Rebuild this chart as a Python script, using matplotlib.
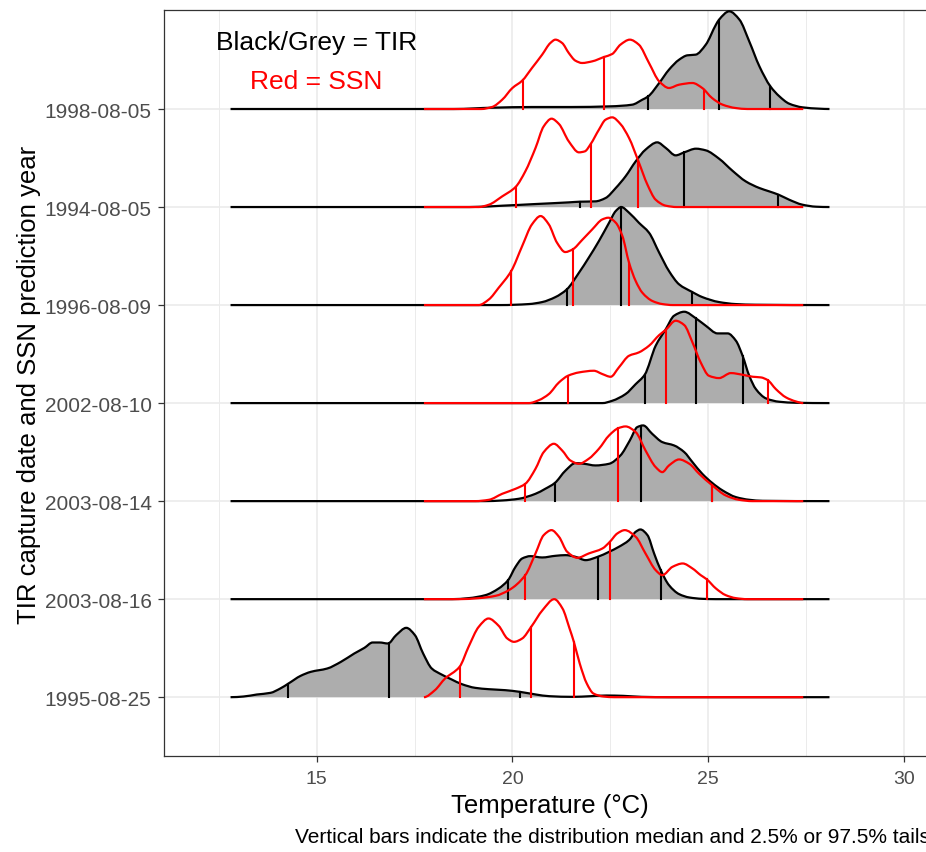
import matplotlib

matplotlib.use("Agg")
import matplotlib.pyplot as plt
import numpy as np
from matplotlib.patches import PathPatch
from matplotlib.path import Path

plt.rcParams["font.family"] = ["Liberation Sans", "DejaVu Sans"]

# ridge rows, bottom to top
DATES = ["1995-08-25", "2003-08-16", "2003-08-14", "2002-08-10",
         "1996-08-09", "1994-08-05", "1998-08-05"]

# density heights, in 1/294 of the gap between two ridges
TIR_1995_X = [12.8, 13.13, 13.47, 13.82, 14.07, 14.28, 14.59, 14.85, 15.27, 15.62, 15.96, 16.22,
              16.43, 16.61, 16.82, 17.03, 17.29, 17.51, 17.72, 17.94, 18.19, 18.45, 18.71, 19.05,
              19.39, 19.82, 20.19, 20.6, 20.94, 21.54, 22.0, 22.4, 22.83, 23.3, 24.0, 28.1]
TIR_1995_H = [0, 2, 8, 13, 26, 41, 64, 76, 86, 106, 131, 148,
              164, 164, 161, 186, 208, 186, 131, 86, 68, 53, 39, 28,
              24, 21, 16, 8, 3, 1, 3, 5, 4, 1, 0, 0]
SSN_1995_X = [17.74, 18.02, 18.28, 18.65, 18.88, 19.14, 19.39, 19.65, 19.87, 20.04, 20.25, 20.48,
              20.77, 21.07, 21.28, 21.46, 21.57, 21.72, 21.9, 22.07, 22.33, 22.6, 27.43]
SSN_1995_H = [0, 21, 56, 91, 151, 211, 236, 214, 176, 166, 176, 211,
              261, 294, 266, 206, 166, 101, 41, 11, 2, 0, 0]

TIR_0816_X = [12.8, 18.46, 18.88, 19.31, 19.65, 19.89, 20.08, 20.25, 20.46, 20.76, 21.1, 21.36,
              21.61, 21.87, 22.18, 22.47, 22.72, 22.98, 23.15, 23.27, 23.45, 23.62, 23.79, 24.0,
              24.26, 24.52, 24.85, 25.2, 28.1]
TIR_0816_H = [0, 0, 3, 12, 32, 57, 97, 122, 129, 125, 130, 132,
              127, 117, 127, 142, 157, 177, 202, 209, 192, 137, 87, 42,
              15, 5, 1, 0, 0]
SSN_0816_X = [17.74, 18.63, 19.14, 19.57, 19.91, 20.33, 20.59, 20.8, 21.0, 21.19, 21.4, 21.66,
              21.95, 22.3, 22.49, 22.68, 22.87, 23.15, 23.4, 23.66, 23.83, 24.09, 24.35, 24.6,
              24.81, 24.96, 25.2, 25.45, 25.71, 26.0, 27.43]
SSN_0816_H = [0, 0, 3, 10, 27, 72, 137, 192, 207, 187, 142, 124,
              137, 152, 172, 197, 207, 187, 137, 87, 72, 97, 107, 92,
              72, 60, 32, 12, 3, 0, 0]

TIR_0814_X = [12.8, 19.3, 19.74, 20.16, 20.59, 20.84, 21.08, 21.36, 21.61, 21.83, 22.12, 22.47,
              22.76, 23.0, 23.19, 23.34, 23.57, 23.83, 24.13, 24.39, 24.6, 24.85, 25.11, 25.37,
              25.71, 26.05, 26.39, 28.1]
TIR_0814_H = [0, 0, 2, 7, 22, 37, 54, 92, 114, 112, 107, 112,
              137, 182, 222, 227, 202, 177, 167, 147, 117, 82, 54, 32,
              12, 4, 1, 0]
SSN_0814_X = [17.74, 19.05, 19.4, 19.74, 20.08, 20.33, 20.59, 20.8, 21.06, 21.27, 21.48, 21.7,
              21.95, 22.21, 22.47, 22.71, 22.89, 23.15, 23.4, 23.66, 23.83, 24.0, 24.26, 24.52,
              24.77, 25.11, 25.45, 25.79, 26.13, 27.43]
SSN_0814_H = [0, 0, 4, 22, 37, 52, 97, 147, 172, 152, 122, 112,
              127, 157, 197, 219, 224, 207, 152, 102, 87, 107, 125, 112,
              82, 47, 17, 4, 0, 0]

TIR_2002_X = [12.8, 22.3, 22.55, 22.89, 23.15, 23.38, 23.66, 23.92, 24.13, 24.39, 24.69, 24.94,
              25.24, 25.5, 25.71, 25.88, 26.05, 26.22, 26.48, 26.82, 27.24, 28.1]
TIR_2002_H = [0, 0, 7, 27, 57, 85, 172, 222, 262, 274, 254, 232,
              209, 209, 187, 142, 82, 42, 14, 4, 1, 0]
SSN_2002_X = [17.74, 20.42, 20.68, 20.93, 21.19, 21.42, 21.7, 22.08, 22.3, 22.51, 22.72, 22.98,
              23.23, 23.49, 23.75, 23.92, 24.17, 24.39, 24.6, 24.81, 25.02, 25.28, 25.58, 25.88,
              26.14, 26.35, 26.52, 26.73, 26.99, 27.24, 27.43]
SSN_2002_H = [0, 0, 9, 27, 62, 82, 92, 97, 87, 79, 107, 142,
              152, 172, 204, 220, 247, 234, 182, 122, 82, 75, 90, 85,
              79, 77, 69, 42, 17, 5, 0]

TIR_1996_X = [12.8, 19.7, 20.42, 20.76, 21.1, 21.39, 21.7, 21.95, 22.21, 22.47, 22.64, 22.78,
              22.98, 23.23, 23.49, 23.75, 24.0, 24.26, 24.58, 24.85, 25.28, 25.7, 26.2, 28.1]
TIR_1996_H = [0, 0, 3, 9, 24, 47, 97, 142, 192, 247, 282, 294,
              277, 247, 217, 157, 102, 62, 40, 24, 9, 3, 1, 0]
SSN_1996_X = [17.74, 19.14, 19.4, 19.65, 19.97, 20.25, 20.5, 20.72, 20.93, 21.14, 21.35, 21.54,
              21.78, 22.04, 22.3, 22.45, 22.64, 22.81, 22.98, 23.15, 23.32, 23.58, 23.83, 24.1, 27.43]
SSN_1996_H = [0, 0, 17, 52, 102, 177, 242, 267, 242, 187, 159, 167,
              195, 227, 257, 262, 247, 207, 127, 72, 37, 12, 3, 0, 0]

TIR_1994_X = [12.8, 18.9, 19.74, 20.59, 21.44, 21.72, 22.12, 22.38, 22.64, 22.89, 23.15, 23.4,
              23.7, 23.92, 24.17, 24.39, 24.69, 24.94, 25.28, 25.62, 25.96, 26.31, 26.56, 26.8,
              27.07, 27.41, 27.76, 28.1]
TIR_1994_H = [0, 0, 4, 9, 14, 16, 17, 27, 57, 92, 137, 172,
              194, 177, 155, 164, 175, 170, 145, 109, 77, 57, 47, 37,
              22, 7, 1, 0]
SSN_1994_X = [17.74, 19.14, 19.4, 19.74, 20.08, 20.33, 20.59, 20.8, 21.0, 21.19, 21.44, 21.7,
              21.85, 22.0, 22.21, 22.38, 22.55, 22.76, 22.98, 23.22, 23.45, 23.66, 23.92, 24.2, 27.43]
SSN_1994_H = [0, 0, 7, 32, 60, 107, 177, 242, 265, 249, 197, 164,
              167, 189, 232, 262, 269, 249, 207, 137, 67, 22, 4, 0, 0]

TIR_1998_X = [12.8, 18.5, 19.5, 20.5, 21.5, 22.5, 23.06, 23.32, 23.47, 23.75, 24.0, 24.26,
              24.47, 24.68, 24.94, 25.2, 25.28, 25.54, 25.8, 26.05, 26.31, 26.59, 26.82, 27.07,
              27.41, 27.84, 28.1]
TIR_1998_H = [0, 0, 4, 6, 6, 8, 13, 28, 38, 78, 118, 148,
              161, 163, 193, 253, 268, 293, 268, 203, 128, 68, 38, 16,
              5, 1, 0]
SSN_1998_X = [17.74, 19.2, 19.48, 19.74, 20.0, 20.25, 20.5, 20.76, 20.97, 21.1, 21.27, 21.44,
              21.61, 21.78, 22.04, 22.34, 22.55, 22.76, 23.0, 23.23, 23.49, 23.75, 24.0, 24.26,
              24.6, 24.85, 25.1, 25.37, 25.7, 26.0, 27.43]
SSN_1998_H = [0, 0, 6, 28, 63, 85, 123, 163, 198, 208, 198, 168,
              145, 138, 143, 156, 165, 193, 208, 193, 138, 83, 63, 73,
              78, 63, 33, 13, 3, 0, 0]

# 2.5 %, median, 97.5 % per row (same order as DATES)
TIR_QUANTILES = [[14.28, 16.84, 20.19], [19.89, 22.18, 23.79], [21.08, 23.29, 25.11],
                 [23.38, 24.68, 25.88], [21.39, 22.78, 24.58], [21.72, 24.39, 26.79],
                 [23.47, 25.28, 26.59]]
SSN_QUANTILES = [[18.65, 20.48, 21.57], [20.33, 22.49, 24.96], [20.33, 22.70, 25.10],
                 [21.42, 23.92, 26.52], [19.97, 21.54, 22.98], [20.08, 22.00, 23.22],
                 [20.27, 22.35, 24.90]]

TIR_CURVES = [(TIR_1995_X, TIR_1995_H), (TIR_0816_X, TIR_0816_H), (TIR_0814_X, TIR_0814_H),
              (TIR_2002_X, TIR_2002_H), (TIR_1996_X, TIR_1996_H), (TIR_1994_X, TIR_1994_H),
              (TIR_1998_X, TIR_1998_H)]
SSN_CURVES = [(SSN_1995_X, SSN_1995_H), (SSN_0816_X, SSN_0816_H), (SSN_0814_X, SSN_0814_H),
              (SSN_2002_X, SSN_2002_H), (SSN_1996_X, SSN_1996_H), (SSN_1994_X, SSN_1994_H),
              (SSN_1998_X, SSN_1998_H)]

H_SCALE = 294.0
GREY = "#ADADAD"
W, H = 926, 853


def pchip_slopes(x, y):
    # monotone (Fritsch-Carlson) tangents so the smooth outline never dips below zero
    dx = np.diff(x)
    s = np.diff(y) / dx
    m = np.zeros_like(y)
    for i in range(1, len(x) - 1):
        if s[i - 1] * s[i] > 0:
            w1 = 2 * dx[i] + dx[i - 1]
            w2 = dx[i] + 2 * dx[i - 1]
            m[i] = (w1 + w2) / (w1 / s[i - 1] + w2 / s[i])
    return m


def smooth_path(x, y, base=None):
    m = pchip_slopes(x, y)
    verts = [(x[0], y[0])]
    codes = [Path.MOVETO]
    for i in range(len(x) - 1):
        d = (x[i + 1] - x[i]) / 3
        verts += [(x[i] + d, y[i] + m[i] * d), (x[i + 1] - d, y[i + 1] - m[i + 1] * d),
                  (x[i + 1], y[i + 1])]
        codes += [Path.CURVE4] * 3
    if base is not None:
        verts += [(x[-1], base), (x[0], base), (x[0], y[0])]
        codes += [Path.LINETO, Path.LINETO, Path.CLOSEPOLY]
    return Path(verts, codes)


def height_at(q, x, y):
    m = pchip_slopes(x, y)
    i = int(np.clip(np.searchsorted(x, q) - 1, 0, len(x) - 2))
    dx = x[i + 1] - x[i]
    t = (q - x[i]) / dx
    h00 = 2 * t**3 - 3 * t**2 + 1
    h10 = t**3 - 2 * t**2 + t
    h01 = -2 * t**3 + 3 * t**2
    h11 = t**3 - t**2
    return h00 * y[i] + h10 * dx * m[i] + h01 * y[i + 1] + h11 * dx * m[i + 1]


def draw_ridges(ax, curves, quantiles, color, fill):
    n = len(curves)
    for i, (xs, hs) in enumerate(curves):
        x = np.asarray(xs, dtype=float)
        y = i + np.asarray(hs, dtype=float) / H_SCALE
        z = (10 if fill else 30) + (n - i)
        if fill:
            ax.add_patch(PathPatch(smooth_path(x, y, base=i), facecolor=fill, edgecolor="none",
                                   zorder=z))
        ax.add_patch(PathPatch(smooth_path(x, y), facecolor="none", edgecolor=color, lw=1.6,
                               joinstyle="round", capstyle="butt", zorder=z + 0.5))
        for q in quantiles[i]:
            ax.plot([q, q], [i, height_at(q, x, y)], color=color, lw=1.5, zorder=z + 0.4)


fig = plt.figure(figsize=(W / 100, H / 100), dpi=100)
ax = fig.add_axes([164 / W, 96 / H, 779 / W, 746 / H])

draw_ridges(ax, TIR_CURVES, TIR_QUANTILES, "black", GREY)
draw_ridges(ax, SSN_CURVES, SSN_QUANTILES, "red", None)

ax.set_xlim(11.1, 31.0)
ax.set_ylim(-0.6, 7.01)
ax.set_xticks([15, 20, 25, 30])
ax.set_xticks([12.5, 17.5, 22.5, 27.5], minor=True)
ax.set_yticks(range(len(DATES)))
ax.set_yticklabels(DATES)
ax.grid(which="major", color="#EBEBEB", lw=1.2, zorder=0)
ax.grid(which="minor", axis="x", color="#EBEBEB", lw=0.7, zorder=0)
ax.set_axisbelow(True)
ax.tick_params(which="major", length=4, width=0.9, color="#333333", labelcolor="#4D4D4D")
ax.tick_params(axis="y", labelsize=15, pad=5)
ax.tick_params(axis="x", labelsize=14, pad=6)
ax.tick_params(which="minor", length=0)
for s in ax.spines.values():
    s.set_color("#333333")
    s.set_linewidth(0.9)

fig.text(549.5 / W, 1 - 813 / H, "Temperature (°C)", fontsize=18.5, ha="center", va="baseline")
fig.text(29 / W, 1 - 385 / H, "TIR capture date and SSN prediction year", fontsize=18.5,
         rotation=90, ha="center", va="center")

ax.text(15.0, 6.687, "Black/Grey = TIR", fontsize=19, color="black", ha="center", va="center",
        zorder=50)
ax.text(15.0, 6.285, "Red = SSN", fontsize=19, color="red", ha="center", va="center", zorder=50)

fig.text(295 / W, 1 - 843 / H, "Vertical bars indicate the distribution median and 2.5% or 97.5% tails",
         fontsize=15, ha="left", va="baseline")

fig.savefig("out.png", dpi=100)
